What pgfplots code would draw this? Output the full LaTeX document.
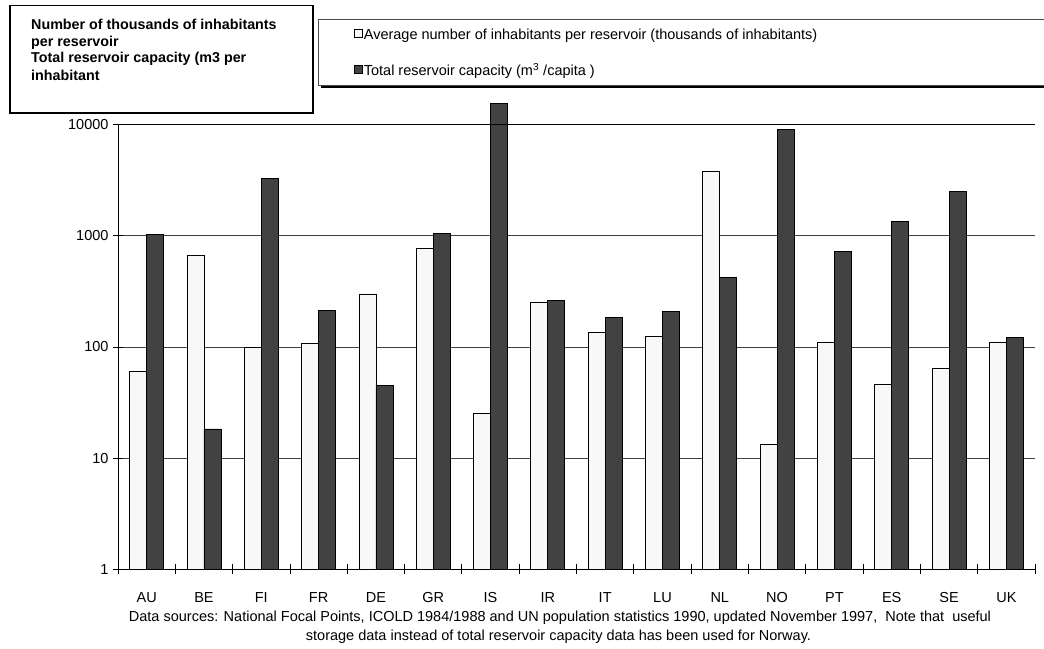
\documentclass[border=0pt]{standalone}
\usepackage{pgfplots}
\pgfplotsset{compat=1.18}
\usepackage{fontspec}
\setmainfont{Liberation Sans}
\definecolor{lightbar}{HTML}{F8F8F8}
\definecolor{darkbar}{HTML}{424242}
\begin{document}
\begin{tikzpicture}[x=1pt,y=1pt]
\useasboundingbox (0,0) rectangle (1044,648);
% left title box
\draw[line width=1.5pt] (10,535) rectangle (313,642.3);
\begin{scope}[every node/.style={anchor=base west,font=\fontsize{14.3}{16}\selectfont\bfseries,inner sep=0pt}]
\node at (31,618.5) {Number of thousands of inhabitants};
\node at (31,601.5) {per reservoir};
\node at (31,585) {Total reservoir capacity (m3 per};
\node at (31,567.5) {inhabitant};
\end{scope}
% legend box with shadow
\fill[black] (321,560) rectangle (1050,626);
\draw[black!70,fill=white,line width=0.8pt] (318,563) rectangle (1050,629);
\begin{axis}[
  at={(118pt,78.7pt)}, anchor=south west,
  width=917pt, height=444.6pt, scale only axis,
  ymode=log, ymin=1, ymax=10000,
  xmin=-0.5, xmax=15.5,
  clip=false,
  axis lines*=left,
  axis line style={black, line width=0.8pt},
  ybar=0pt, bar width=17pt,
  ytick={1,10,100,1000,10000},
  yticklabels={1,10,100,1000,10000},
  yminorticks=false,
  xtick={0,...,15},
  xticklabels={AU,BE,FI,FR,DE,GR,IS,IR,IT,LU,NL,NO,PT,ES,SE,UK},
  minor xtick={-0.5,0.5,...,15.5},
  x tick style={draw=none},
  minor x tick style={draw=black, line width=0.8pt},
  minor tick length=10pt,
  y tick style={black, line width=0.8pt},
  major tick length=10pt,
  tick align=center,
  ymajorgrids, major grid style={black!75, line width=0.9pt},
  tick label style={font=\fontsize{14.5}{16}\selectfont},
  /pgf/number format/assume math mode=true,
  xticklabel style={yshift=-15pt},
  yticklabel style={xshift=-1pt},
  legend style={draw=none, fill=none, at={(axis description cs:0.2574,1.2153)}, anchor=north west,
    inner sep=0pt, row sep=23pt, column sep=1pt,
    nodes={inner sep=0pt, font=\fontsize{14.5}{16}\selectfont, text height=9pt, text depth=3pt}},
  legend cell align=left,
  legend image code/.code={\draw[#1,line width=0.6pt] (0pt,-1pt) rectangle (8pt,7pt);},
]
\addplot[fill=lightbar, draw=black, line width=0.8pt] coordinates {
(0,60.7) (1,661) (2,100) (3,108) (4,299) (5,775) (6,25.1) (7,250)
(8,134) (9,124) (10,3795) (11,13.2) (12,111) (13,46.4) (14,64.6) (15,111)};
\addlegendentry{Average number of inhabitants per reservoir (thousands of inhabitants)}
\addplot[fill=darkbar, draw=black, line width=0.8pt] coordinates {
(0,1020) (1,18.3) (2,3256) (3,213) (4,45.4) (5,1042) (6,15500) (7,262)
(8,183) (9,207) (10,419) (11,9057) (12,728) (13,1336) (14,2507) (15,123)};
\addlegendentry{Total reservoir capacity (m\textsuperscript{3} /capita )}
\draw[black, line width=0.9pt] (axis cs:-0.5,10000) -- (axis cs:15.5,10000);
\end{axis}
\node[anchor=base,font=\fontsize{14.5}{16}\selectfont,inner sep=0pt] at (560,26.3) {Data sources: National Focal Points, ICOLD 1984/1988 and UN population statistics 1990, updated November 1997,\ \ Note that\ \ useful};
\node[anchor=base,font=\fontsize{14.5}{16}\selectfont,inner sep=0pt] at (558.5,8) {storage data instead of total reservoir capacity data has been used for Norway.};
\end{tikzpicture}
\end{document}
